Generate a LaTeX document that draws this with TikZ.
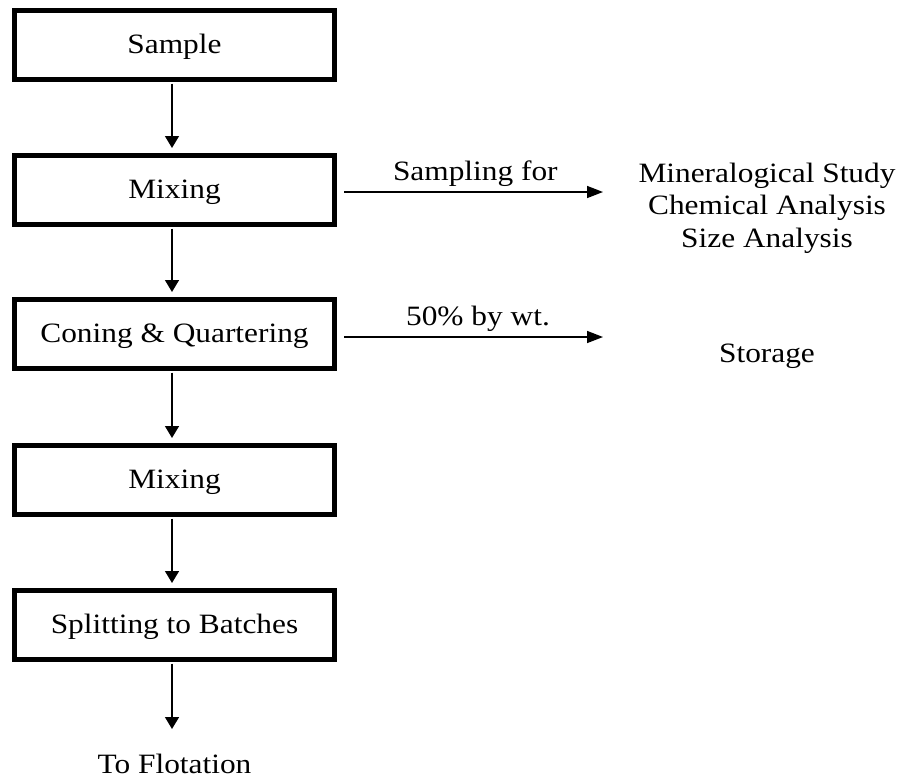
\documentclass[tikz,border=0pt]{standalone}
\usepackage{fontspec}
\setmainfont{Liberation Serif}[FakeStretch=1.12]
\usetikzlibrary{arrows.meta}
\begin{document}
\begin{tikzpicture}[x=1pt,y=-1pt,
  every node/.style={font=\fontsize{28}{32.5}\selectfont, inner sep=0pt},
  stepbox/.style={draw, line width=5pt, minimum width=320pt, minimum height=69pt,
    text height=22pt, text depth=6pt},
  varr/.style={line width=1.5pt, -{Triangle[length=12pt,width=14pt]},
    shorten <=1.5pt, shorten >=5pt},
  harr/.style={line width=1.5pt, -{Triangle[length=16pt,width=12pt]},
    shorten <=7pt},
  lbl/.style={anchor=base, align=center}]
\useasboundingbox (0,0) rectangle (904,780);

% main process chain
\node[stepbox] (b1) at (174.5,45)  {Sample};
\node[stepbox] (b2) at (174.5,190) {Mixing};
\node[stepbox] (b3) at (174.5,334) {Coning \& Quartering};
\node[stepbox] (b4) at (174.5,480) {Mixing};
\node[stepbox] (b5) at (174.5,625) {Splitting to Batches};
\node[lbl] (fl) at (174.5,773) {To Flotation};
\coordinate (fe) at (172,729);

\draw[varr] ([xshift=-2.5pt]b1.south) -- ([xshift=-2.5pt]b2.north);
\draw[varr] ([xshift=-2.5pt]b2.south) -- ([xshift=-2.5pt]b3.north);
\draw[varr] ([xshift=-2.5pt]b3.south) -- ([xshift=-2.5pt]b4.north);
\draw[varr] ([xshift=-2.5pt]b4.south) -- ([xshift=-2.5pt]b5.north);
\draw[line width=1.5pt, -{Triangle[length=12pt,width=14pt]}, shorten <=1.5pt]
  (b5.south -| fe) -- (fe);

% side outputs (base of a multi-line node is its last line)
\node[lbl] (use) at (767,247) {Mineralogical Study\\Chemical Analysis\\Size Analysis};
\node[lbl] (st) at (767,362) {Storage};
\coordinate (e1) at (603,192);
\coordinate (e2) at (603,337);

\draw[harr] (b2.east |- e1) -- (e1)
  node[pos=0.52, anchor=base, yshift=12pt] (l1) {Sampling for};
\draw[harr] (b3.east |- e2) -- (e2)
  node[pos=0.53, anchor=base, yshift=12pt] (l2) {50\% by wt.};
\end{tikzpicture}
\end{document}
